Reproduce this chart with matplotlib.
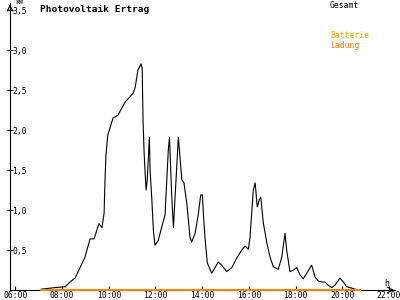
import matplotlib
matplotlib.use('Agg')
import matplotlib.pyplot as plt

# PV output (Gesamt), hours of day vs kW
hours = [7.10, 7.70, 8.13, 8.34, 8.56, 8.77, 8.98, 9.20, 9.37, 9.58, 9.71, 9.80,
         9.84, 9.88, 9.96, 10.18, 10.40, 10.70, 11.04, 11.13, 11.25, 11.38, 11.43,
         11.47, 11.51, 11.55, 11.60, 11.65, 11.74, 11.77, 11.84, 11.91, 11.98,
         12.12, 12.27, 12.41, 12.55, 12.60, 12.70, 12.77, 12.84, 12.98, 13.13,
         13.22, 13.34, 13.48, 13.55, 13.70, 13.84, 13.94, 14.01, 14.05, 14.12,
         14.22, 14.41, 14.55, 14.69, 14.84, 15.05, 15.27, 15.48, 15.70, 15.84,
         15.98, 16.05, 16.19, 16.27, 16.36, 16.45, 16.51, 16.62, 16.77, 16.91,
         17.05, 17.26, 17.41, 17.55, 17.62, 17.76, 17.91, 18.05, 18.19, 18.33,
         18.48, 18.69, 18.84, 18.98, 19.12, 19.26, 19.40, 19.55, 19.69, 19.90,
         20.05, 20.19, 20.33, 20.55, 20.76]
gesamt = [0.01, 0.03, 0.04, 0.10, 0.15, 0.28, 0.41, 0.64, 0.64, 0.83, 0.78, 0.96,
          1.38, 1.69, 1.94, 2.15, 2.19, 2.35, 2.46, 2.53, 2.75, 2.83, 2.78,
          2.10, 1.75, 1.50, 1.25, 1.38, 1.91, 1.50, 1.16, 0.75, 0.56,
          0.62, 0.79, 0.94, 1.75, 1.91, 1.16, 0.78, 1.16, 1.91, 1.38,
          1.34, 1.09, 0.66, 0.60, 0.71, 0.96, 1.19, 1.19, 0.96, 0.66,
          0.34, 0.21, 0.28, 0.35, 0.31, 0.23, 0.28, 0.40, 0.50, 0.55,
          0.51, 0.66, 1.25, 1.34, 1.04, 1.13, 1.16, 0.84, 0.59, 0.41,
          0.29, 0.26, 0.41, 0.71, 0.50, 0.23, 0.25, 0.28, 0.19, 0.14,
          0.21, 0.31, 0.16, 0.11, 0.10, 0.10, 0.06, 0.03, 0.06, 0.15,
          0.10, 0.04, 0.03, 0.01, 0.00]
batterie = [0.0] * len(hours)
ladung = [0.0] * len(hours)

y_ticks = [0.5, 1.0, 1.5, 2.0, 2.5, 3.0, 3.5]
x_ticks = [6, 8, 10, 12, 14, 16, 18, 20, 22]
x_labels = ['06:00', '08:00', '10:00', '12:00', '14:00', '16:00', '18:00', '20:00', '22:00']

mono = 'DejaVu Sans Mono'

fig = plt.figure(figsize=(4, 3), dpi=100)
ax = fig.add_axes([0.025, 0.0333, 0.9625, 0.9567])

ax.plot(hours, gesamt, color='black', lw=0.8)
ax.plot(hours, batterie, color='#ffaa00', lw=1.2, clip_on=False, zorder=3)
ax.plot(hours, ladung, color='#ff8000', lw=1.2, clip_on=False, zorder=3)

ax.set_xlim(5.77, 22.26)
ax.set_ylim(0, 3.59)

for s in ['top', 'right']:
    ax.spines[s].set_visible(False)
ax.spines['left'].set_linewidth(0.8)
ax.spines['bottom'].set_linewidth(0.8)

ax.set_yticks(y_ticks)
ax.set_yticklabels([('%.1f' % v).replace('.', ',') for v in y_ticks],
                   fontsize=5.8, family=mono)
for lab in ax.get_yticklabels():
    lab.set_ha('left')
ax.tick_params(axis='y', direction='inout', length=5, width=0.8, pad=-4)

ax.set_xticks(x_ticks)
ax.set_xticklabels(x_labels, fontsize=5.8, family=mono)
ax.tick_params(axis='x', direction='in', length=3, width=0.8, pad=1)

# arrow heads on axes
ax.annotate('', xy=(0, 1.005), xytext=(0, 0.98), xycoords='axes fraction',
            arrowprops=dict(arrowstyle='->', lw=0.8, color='black'))
ax.annotate('', xy=(1.005, 0), xytext=(0.98, 0), xycoords='axes fraction',
            arrowprops=dict(arrowstyle='->', lw=0.8, color='black'))

fig.text(15 / 400, 1 - 2 / 300, 'kW', fontsize=4.8, family=mono, va='center')
fig.text(384 / 400, 1 - 283 / 300, 'h', fontsize=5.8, family=mono, va='center')
fig.text(40 / 400, 1 - 10 / 300, 'Photovoltaik Ertrag', fontsize=6.8,
         family=mono, fontweight='bold', va='center')
fig.text(330 / 400, 1 - 5 / 300, 'Gesamt', fontsize=5.8, family=mono,
         va='center', color='black')
fig.text(330 / 400, 1 - 36 / 300, 'Batterie', fontsize=5.8, family=mono,
         va='center', color='#ffaa00')
fig.text(330 / 400, 1 - 45 / 300, 'Ladung', fontsize=5.8, family=mono,
         va='center', color='#ff8000')

fig.savefig('out.png', dpi=100)
